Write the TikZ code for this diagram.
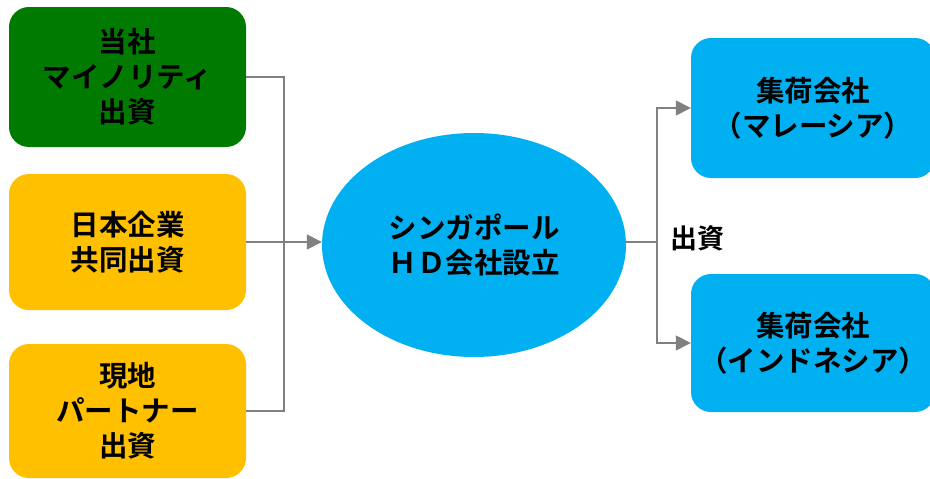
\documentclass[tikz,border=0pt]{standalone}
\usepackage{fontspec}
\setmainfont{Noto Sans CJK JP}[BoldFont={Noto Sans CJK JP Bold}]
\usetikzlibrary{shapes.geometric,arrows.meta}
\definecolor{boxgreen}{HTML}{007A00}
\definecolor{boxyellow}{HTML}{FFC000}
\definecolor{boxblue}{HTML}{00B0F0}
\definecolor{linegray}{HTML}{808080}
\tikzset{
  box/.style={rounded corners=20pt, minimum width=237pt, align=center, inner sep=0pt,
    font=\fontsize{28.5}{35}\selectfont\bfseries, text=black},
  conn/.style={draw=linegray, line width=1.6pt},
  arr/.style={conn, -{Triangle[length=15pt,width=15pt]}},
}
\begin{document}
\begin{tikzpicture}[x=1pt,y=1pt]
\useasboundingbox (0,0) rectangle (930,-479);
\clip (0,0) rectangle (930,-479);
\node[box, fill=boxgreen, minimum height=140pt] (g) at (127.5,-77) {当社\\マイノリティ\\出資};
\node[box, fill=boxyellow, minimum height=136pt] (y2) at (127.5,-242) {日本企業\\共同出資};
\node[box, fill=boxyellow, minimum height=134pt] (y3) at (127.5,-411) {現地\\パートナー\\出資};
\node[ellipse, fill=boxblue, minimum width=304pt, minimum height=224pt, inner sep=0pt, align=center,
  font=\fontsize{28.5}{35}\selectfont\bfseries] (e) at (474,-245) {シンガポール\\ＨＤ会社設立};
\node[box, fill=boxblue, minimum width=244pt, minimum height=140pt] (r1) at (813,-108) {集荷会社\\（マレーシア）};
\node[box, fill=boxblue, minimum width=244pt, minimum height=138pt] (r2) at (813,-343) {集荷会社\\（インドネシア）};
\coordinate (jl) at (284,-242);
\coordinate (jr) at (657,-242);
\draw[conn] (g.east) -| (jl);
\draw[conn] (y3.east) -| (jl);
\draw[arr] (y2.east) -- (e.west |- jl);
\draw[conn] (e.east |- jr) -- (jr);
\draw[arr] (jr) |- (r1.west);
\draw[arr] (jr) |- (r2.west);
\node[font=\fontsize{27}{30}\selectfont\bfseries, anchor=west, inner sep=0pt] (lbl) at (670,-238) {出資};
\end{tikzpicture}
\end{document}
